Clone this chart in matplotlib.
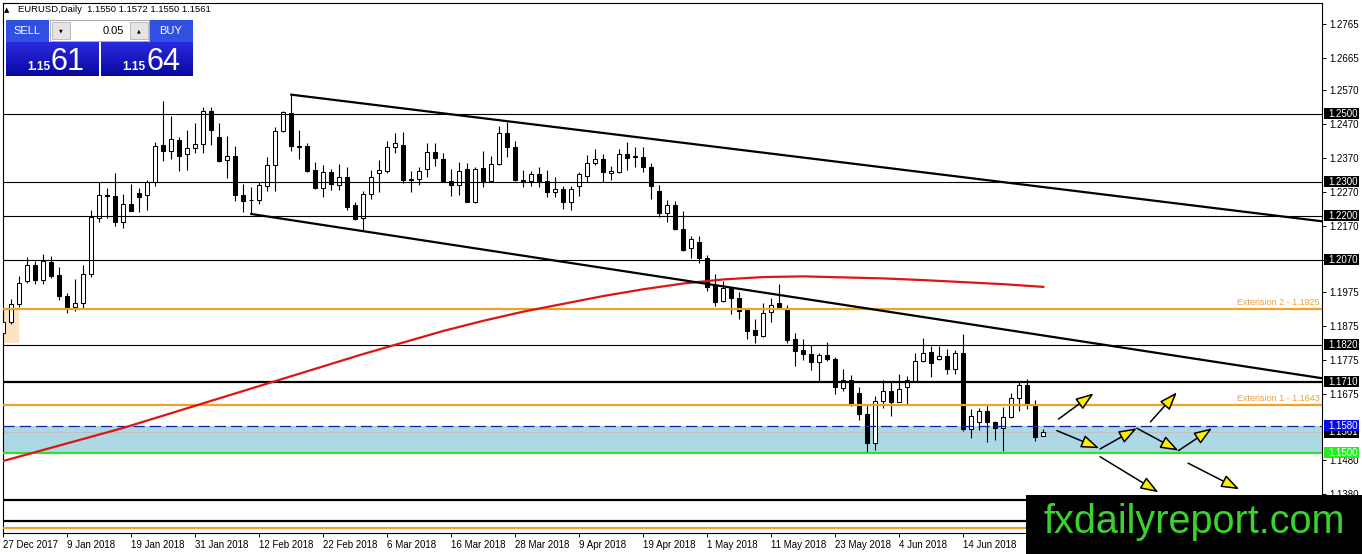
"""
EURUSD daily chart (MT4 style) with channel, levels and scenario arrows
"""

import numpy as np
import pandas as pd
import matplotlib
matplotlib.use('Agg')
import matplotlib.pyplot as plt
from matplotlib.patches import Rectangle, FancyArrowPatch
from matplotlib.colors import LinearSegmentedColormap

plt.rcParams['font.family'] = ['Liberation Sans', 'DejaVu Sans']

# ── candle data (27 Dec 2017 .. 28 Jun 2018) ──
opens = [1.1853, 1.1886, 1.1940, 1.2007, 1.2056, 1.2010, 1.2064, 1.2026, 1.1962, 1.1930,
         1.1943, 1.2028, 1.2193, 1.2260, 1.2258, 1.2181, 1.2235, 1.2267, 1.2261, 1.2300,
         1.2410, 1.2390, 1.2423, 1.2382, 1.2400, 1.2412, 1.2508, 1.2433, 1.2364, 1.2376,
         1.2262, 1.2247, 1.2246, 1.2287, 1.2351, 1.2449, 1.2504, 1.2405, 1.2407, 1.2335,
         1.2282, 1.2330, 1.2291, 1.2315, 1.2232, 1.2193, 1.2264, 1.2326, 1.2333, 1.2404,
         1.2410, 1.2307, 1.2308, 1.2337, 1.2389, 1.2366, 1.2303, 1.2291, 1.2337, 1.2240,
         1.2340, 1.2302, 1.2352, 1.2443, 1.2402, 1.2305, 1.2302, 1.2322, 1.2302, 1.2269,
         1.2278, 1.2241, 1.2288, 1.2318, 1.2355, 1.2366, 1.2325, 1.2330, 1.2382, 1.2375,
         1.2372, 1.2345, 1.2273, 1.2207, 1.2232, 1.2161, 1.2105, 1.2122, 1.2074, 1.1997,
         1.1949, 1.1986, 1.1956, 1.1922, 1.1863, 1.1846, 1.1915, 1.1942, 1.1927, 1.1835,
         1.1804, 1.1791, 1.1768, 1.1788, 1.1778, 1.1692, 1.1715, 1.1678, 1.1615, 1.1529,
         1.1654, 1.1684, 1.1650, 1.1696, 1.1711, 1.1770, 1.1799, 1.1776, 1.1786, 1.1747,
         1.1796, 1.1570, 1.1590, 1.1624, 1.1592, 1.1573, 1.1605, 1.1662, 1.1701, 1.1638,
         1.1550]
highs = [1.1908, 1.1955, 1.2023, 1.2079, 1.2066, 1.2087, 1.2082, 1.2050, 1.1973, 1.2013,
         1.2055, 1.2218, 1.2298, 1.2281, 1.2325, 1.2264, 1.2294, 1.2281, 1.2305, 1.2416,
         1.2539, 1.2495, 1.2433, 1.2453, 1.2473, 1.2522, 1.2522, 1.2473, 1.2436, 1.2407,
         1.2294, 1.2284, 1.2298, 1.2372, 1.2461, 1.2510, 1.2557, 1.2453, 1.2413, 1.2357,
         1.2351, 1.2338, 1.2353, 1.2343, 1.2240, 1.2272, 1.2335, 1.2365, 1.2421, 1.2444,
         1.2446, 1.2333, 1.2345, 1.2413, 1.2413, 1.2384, 1.2337, 1.2359, 1.2355, 1.2343,
         1.2391, 1.2376, 1.2465, 1.2477, 1.2421, 1.2335, 1.2333, 1.2345, 1.2335, 1.2315,
         1.2288, 1.2289, 1.2330, 1.2379, 1.2396, 1.2382, 1.2347, 1.2396, 1.2416, 1.2402,
         1.2402, 1.2355, 1.2290, 1.2246, 1.2242, 1.2213, 1.2139, 1.2139, 1.2084, 1.2029,
         1.2006, 1.1991, 1.1975, 1.1927, 1.1895, 1.1943, 1.1956, 1.1999, 1.1936, 1.1853,
         1.1835, 1.1818, 1.1795, 1.1826, 1.1782, 1.1749, 1.1730, 1.1696, 1.1642, 1.1667,
         1.1716, 1.1708, 1.1734, 1.1726, 1.1795, 1.1838, 1.1816, 1.1816, 1.1806, 1.1803,
         1.1850, 1.1629, 1.1634, 1.1645, 1.1595, 1.1636, 1.1676, 1.1709, 1.1717, 1.1656,
         1.1572]
lows = [1.1846, 1.1881, 1.1930, 1.2001, 1.1999, 1.1999, 1.2015, 1.1950, 1.1912, 1.1918,
        1.1928, 1.2018, 1.2182, 1.2192, 1.2171, 1.2163, 1.2213, 1.2210, 1.2218, 1.2289,
        1.2362, 1.2367, 1.2333, 1.2335, 1.2384, 1.2384, 1.2410, 1.2357, 1.2311, 1.2244,
        1.2210, 1.2205, 1.2235, 1.2274, 1.2272, 1.2446, 1.2392, 1.2367, 1.2328, 1.2279,
        1.2256, 1.2277, 1.2276, 1.2217, 1.2187, 1.2156, 1.2249, 1.2269, 1.2325, 1.2384,
        1.2296, 1.2269, 1.2291, 1.2315, 1.2347, 1.2300, 1.2259, 1.2261, 1.2239, 1.2237,
        1.2286, 1.2300, 1.2350, 1.2374, 1.2302, 1.2284, 1.2288, 1.2284, 1.2254, 1.2256,
        1.2220, 1.2217, 1.2258, 1.2300, 1.2350, 1.2298, 1.2305, 1.2325, 1.2335, 1.2345,
        1.2330, 1.2249, 1.2197, 1.2180, 1.2159, 1.2097, 1.2076, 1.2061, 1.1979, 1.1934,
        1.1946, 1.1909, 1.1895, 1.1835, 1.1825, 1.1841, 1.1887, 1.1927, 1.1825, 1.1756,
        1.1774, 1.1745, 1.1713, 1.1771, 1.1675, 1.1682, 1.1640, 1.1597, 1.1500, 1.1508,
        1.1632, 1.1610, 1.1650, 1.1641, 1.1710, 1.1767, 1.1725, 1.1774, 1.1734, 1.1734,
        1.1565, 1.1543, 1.1567, 1.1533, 1.1538, 1.1506, 1.1603, 1.1625, 1.1631, 1.1536,
        1.1550]
closes = [1.1886, 1.1940, 1.2000, 1.2056, 1.2010, 1.2067, 1.2023, 1.1962, 1.1930, 1.1943,
          1.2028, 1.2197, 1.2261, 1.2258, 1.2180, 1.2235, 1.2215, 1.2256, 1.2300, 1.2407,
          1.2390, 1.2426, 1.2377, 1.2400, 1.2412, 1.2508, 1.2453, 1.2362, 1.2376, 1.2261,
          1.2242, 1.2245, 1.2291, 1.2351, 1.2449, 1.2506, 1.2405, 1.2403, 1.2333, 1.2281,
          1.2330, 1.2294, 1.2313, 1.2227, 1.2190, 1.2264, 1.2315, 1.2335, 1.2404, 1.2413,
          1.2305, 1.2305, 1.2332, 1.2389, 1.2369, 1.2302, 1.2291, 1.2333, 1.2241, 1.2337,
          1.2302, 1.2352, 1.2445, 1.2402, 1.2305, 1.2303, 1.2322, 1.2302, 1.2269, 1.2278,
          1.2240, 1.2279, 1.2322, 1.2355, 1.2366, 1.2328, 1.2332, 1.2381, 1.2369, 1.2373,
          1.2345, 1.2289, 1.2207, 1.2231, 1.2161, 1.2100, 1.2132, 1.2076, 1.1990, 1.1946,
          1.1988, 1.1958, 1.1920, 1.1861, 1.1848, 1.1912, 1.1938, 1.1929, 1.1833, 1.1801,
          1.1791, 1.1767, 1.1788, 1.1777, 1.1695, 1.1715, 1.1641, 1.1615, 1.1529, 1.1654,
          1.1684, 1.1649, 1.1688, 1.1714, 1.1772, 1.1795, 1.1766, 1.1786, 1.1747, 1.1796,
          1.1570, 1.1609, 1.1624, 1.1592, 1.1573, 1.1605, 1.1661, 1.1700, 1.1644, 1.1548,
          1.1561]

# moving average (read at every 5th bar)
ma_bars = [-1, 15, 30, 45, 55, 60, 65, 70, 75, 80, 85, 90, 95, 100, 105, 110, 115, 120, 125, 130]
ma_vals = [1.1470, 1.1574, 1.1683, 1.1792, 1.1860, 1.1890, 1.1917, 1.1940, 1.1963, 1.1983,
           1.2000, 1.2012, 1.2019, 1.2021, 1.2018, 1.2015, 1.2010, 1.2004, 1.1998, 1.1990]

# channel lines (bar, price)
upper_trend = [(36, 1.2557), (165, 1.2183)]
lower_trend = [(31, 1.2205), (165, 1.1720)]

# horizontal levels
thin_levels = [1.2500, 1.2300, 1.2200, 1.2070, 1.1820]
thick_levels = [1.1710, 1.1360, 1.1300]
orange_levels = [1.1925, 1.1643, 1.1280]
zone_top, zone_bottom = 1.1580, 1.1500
bid_price = 1.1561

right_ticks = [1.2765, 1.2665, 1.2570, 1.2470, 1.2370, 1.2270, 1.2170, 1.2070,
               1.1975, 1.1875, 1.1775, 1.1675, 1.1480, 1.1380]
price_boxes = [(1.2500, 'black'), (1.2300, 'black'), (1.2200, 'black'), (1.2070, 'black'),
               (1.1820, 'black'), (1.1710, 'black'), (1.1561, 'black'),
               (1.1580, '#0a0af0'), (1.1500, '#22ee22')]

# scenario arrows: (start bar, start price, end bar, end price)
arrows = [(131.9, 1.1600, 136.3, 1.1676),
          (131.7, 1.1566, 137.0, 1.1514),
          (137.1, 1.1512, 141.7, 1.1573),
          (143.4, 1.1592, 146.7, 1.1679),
          (141.7, 1.1573, 146.9, 1.1507),
          (146.9, 1.1507, 151.1, 1.1573),
          (137.1, 1.1489, 144.4, 1.1384),
          (148.1, 1.1470, 154.5, 1.1393)]

dates = pd.bdate_range('2017-12-27', '2018-06-28')
dates = dates[dates != pd.Timestamp('2018-01-01')]

# ═══════════════════════════════════════════════════════════════════
W, H = 1362, 554
fig = plt.figure(figsize=(W / 100, H / 100), dpi=100, facecolor='white')
ax = fig.add_axes([2.5 / W, (H - 533) / H, (1322 - 2.5) / W, (533 - 3) / H])
ax.set_xlim(-0.1, 164.84)
ax.set_ylim(1.12640, 1.28274)

x = np.arange(len(opens))
o = np.array(opens); c = np.array(closes)
hi = np.array(highs); lo = np.array(lows)

# background objects
ax.axhspan(zone_bottom, zone_top, color='#add8e6', zorder=0.5, lw=0)
ax.add_patch(Rectangle((-1, 1.1824), 2.96, 0.0103, fc='#fde2c6', ec='none', zorder=0.6))

# candles
ax.vlines(x, lo, hi, color='black', lw=0.8, zorder=2)
bottoms = np.minimum(o, c)
heights = np.maximum(np.abs(c - o), 0.00008)
fills = ['white' if cc >= oo else 'black' for oo, cc in zip(o, c)]
ax.bar(x, heights, bottom=bottoms, width=0.52, color=fills, edgecolor='black',
       linewidth=0.75, zorder=3)

# levels
for lv in thin_levels:
    ax.axhline(lv, color='black', lw=0.8, zorder=4)
for lv in thick_levels:
    ax.axhline(lv, color='black', lw=1.6, zorder=4)
for lv in orange_levels:
    ax.axhline(lv, color='#f2a12a', lw=1.6, zorder=4)
ax.axhline(zone_bottom, color='#33dd33', lw=1.6, zorder=4)
ax.axhline(zone_top, color='#1a1aa0', lw=0.9, ls=(0, (9, 4)), zorder=4)
ax.axhline(bid_price, color='#c0c0c0', lw=0.8, zorder=1)

ax.text(0.9985, 1.1925 + 0.0005, 'Extension 2 - 1.1925', transform=ax.get_yaxis_transform(),
        ha='right', va='bottom', fontsize=6.5, color='#eba23c', zorder=5)
ax.text(0.9985, 1.1643 + 0.0005, 'Extension 1 - 1.1643', transform=ax.get_yaxis_transform(),
        ha='right', va='bottom', fontsize=6.5, color='#eba23c', zorder=5)

# indicator and channel
ax.plot(ma_bars, ma_vals, color='#dd1515', lw=1.6, zorder=5)
for line in (upper_trend, lower_trend):
    ax.plot([p[0] for p in line], [p[1] for p in line], color='black', lw=1.6, zorder=5)

# arrows
for x0, y0, x1, y1 in arrows:
    ax.add_patch(FancyArrowPatch((x0, y0), (x1, y1),
                                 arrowstyle='-|>,head_length=1.1,head_width=0.4',
                                 mutation_scale=10, fc='#ffee00', ec='black', lw=1.1,
                                 shrinkA=0, shrinkB=0, zorder=6))

# axes styling
for sp in ax.spines.values():
    sp.set_linewidth(0.8)
ax.yaxis.tick_right()
ax.set_yticks(right_ticks)
ax.set_yticklabels([f'{t:.4f}' for t in right_ticks])
ax.tick_params(axis='y', length=3, width=0.7, pad=2, labelsize=7)

xt = list(range(0, len(dates), 8))
ax.set_xticks(xt)
ax.set_xticklabels([f'{dates[i].day} {dates[i].strftime("%b %Y")}' for i in xt],
                   ha='left', fontsize=7)
ax.tick_params(axis='x', length=3, width=0.7, pad=2)

# price label boxes on the right scale (later boxes cover earlier ones)
bw = 35 / 1319.5
bh = 11 / 3390
for k, (price, col) in enumerate(price_boxes):
    ax.add_patch(Rectangle((1.0015, price - bh / 2), bw, bh, transform=ax.get_yaxis_transform(),
                           fc=col, ec='none', clip_on=False, zorder=8 + 2 * k))
    ax.text(1.0045, price, f'{price:.4f}', transform=ax.get_yaxis_transform(),
            ha='left', va='center', fontsize=7, color='white', clip_on=False, zorder=9 + 2 * k)

# ── overlay: trade panel + logo (pixel coordinates) ──
ov = fig.add_axes([0, 0, 1, 1], zorder=10)
ov.set_xlim(0, W)
ov.set_ylim(H, 0)
ov.axis('off')
ov.patch.set_visible(False)

def box(x0, y0, x1, y1, **kw):
    ov.add_patch(Rectangle((x0, y0), x1 - x0, y1 - y0, **kw))

ov.text(7, 10, '▲', fontsize=5, ha='center', va='center', family=['DejaVu Sans'])
ov.text(18, 10, 'EURUSD,Daily  1.1550 1.1572 1.1550 1.1561', fontsize=6.8, va='center')

box(6, 20, 49, 42, fc='#3050e2', ec='none')
ov.text(27, 31, 'SELL', color='white', fontsize=8, ha='center', va='center')
box(150, 20, 193, 42, fc='#3050e2', ec='none')
ov.text(171, 31, 'BUY', color='white', fontsize=8, ha='center', va='center')
box(50, 20, 149, 41, fc='white', ec='#a8a8a8', lw=0.7)
box(52, 22, 70, 39, fc='#e4e4e4', ec='#b4b4b4', lw=0.6)
box(130, 22, 148, 39, fc='#e4e4e4', ec='#b4b4b4', lw=0.6)
ov.text(61, 30.5, '▼', fontsize=3.5, ha='center', va='center', family=['DejaVu Sans'])
ov.text(139, 30.5, '▲', fontsize=3.5, ha='center', va='center', family=['DejaVu Sans'])
ov.text(124, 30.5, '0.05', fontsize=8, ha='right', va='center')

grad_cmap = LinearSegmentedColormap.from_list('panel', ['#2a2ae0', '#0808a0'])
grad = np.linspace(0, 1, 40).reshape(-1, 1)
for x0, x1, big in ((6, 99, '61'), (101, 193, '64')):
    ov.imshow(grad, extent=[x0, x1, 76, 42], cmap=grad_cmap, aspect='auto', zorder=1)
    ov.text(x0 + 21, 70, '1.15', color='white', fontsize=8.5, fontweight='bold',
            va='baseline', zorder=2)
    ov.text(x0 + 45, 70, big, color='white', fontsize=22, va='baseline', zorder=2)
ov.set_xlim(0, W)
ov.set_ylim(H, 0)

box(1026, 495, 1362, 554, fc='black', ec='none')
ov.text(1043, 533, 'fxdailyreport.com', color='#3ad22c', fontsize=28.5, va='baseline')

plt.savefig('out.png', dpi=100, facecolor='white')
plt.close()
